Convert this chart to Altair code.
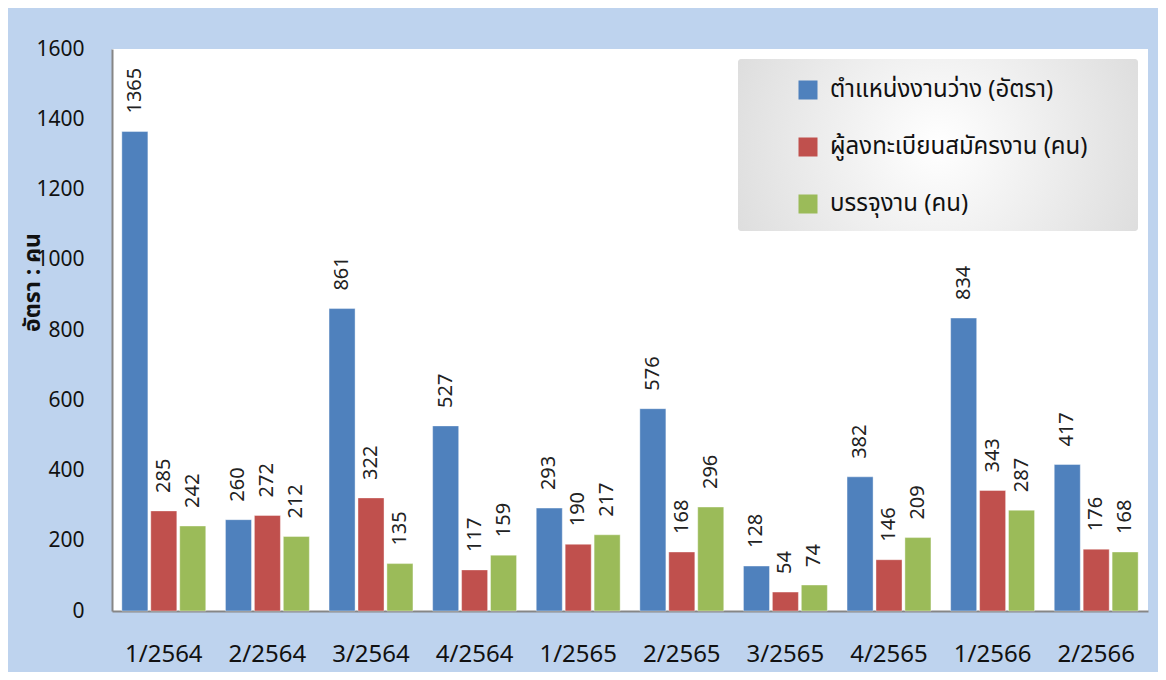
import altair as alt
import pandas as pd

quarters = ["1/2564", "2/2564", "3/2564", "4/2564", "1/2565",
            "2/2565", "3/2565", "4/2565", "1/2566", "2/2566"]
series = ["ตำแหน่งงานว่าง (อัตรา)", "ผู้ลงทะเบียนสมัครงาน (คน)", "บรรจุงาน (คน)"]
vacancies = [1365, 260, 861, 527, 293, 576, 128, 382, 834, 417]
applicants = [285, 272, 322, 117, 190, 168, 54, 146, 343, 176]
placements = [242, 212, 135, 159, 217, 296, 74, 209, 287, 168]
colors = ["#4f81bd", "#c0504d", "#9bbb59"]

rows = []
for i, q in enumerate(quarters):
    for s, vals in zip(series, [vacancies, applicants, placements]):
        rows.append({"quarter": q, "series": s, "value": vals[i]})
df = pd.DataFrame(rows)

FONT = "Tahoma, 'Noto Sans Thai', 'Noto Sans', 'Liberation Sans', sans-serif"

x_enc = alt.X("quarter:N", sort=quarters,
              scale=alt.Scale(paddingInner=0.19, paddingOuter=0.095),
              axis=alt.Axis(title=None, labelAngle=0, labelFontSize=24,
                            labelColor="#111111", labelPadding=31, ticks=False,
                            domainColor="#868686", domainWidth=2, labelFont=FONT))
xo_enc = alt.XOffset("series:N", sort=series,
                     scale=alt.Scale(domain=series, paddingInner=0.1, paddingOuter=0))
y_enc = alt.Y("value:Q",
              scale=alt.Scale(domain=[0, 1600], nice=False),
              axis=alt.Axis(values=list(range(0, 1601, 200)), grid=False, ticks=False,
                            format="d",
                            labelFontSize=21, labelColor="#111111", labelPadding=28,
                            domainColor="#868686", domainWidth=2, labelFont=FONT,
                            title="อัตรา : คน", titleFontSize=23, titleFontWeight="bold",
                            titleFont=FONT, titleColor="#111111",
                            titleX=-80, titleY=233, titleAngle=270,
                            titleBaseline="middle", titleAlign="center"))

legend_box = alt.Chart(pd.DataFrame({"k": [0]})).mark_rect(
    cornerRadius=3,
    fill=alt.RadialGradient(
        gradient="radial",
        stops=[alt.GradientStop(offset=0, color="#ffffff"),
               alt.GradientStop(offset=1, color="#d4d4d4")],
        x1=0.5, y1=0.5, r1=0, x2=0.5, y2=0.5, r2=0.7),
).encode(x=alt.value(626), x2=alt.value(1026), y=alt.value(10), y2=alt.value(182))

bars = alt.Chart(df).mark_bar(stroke="white", strokeWidth=0.8, strokeOpacity=0.5).encode(
    x=x_enc, xOffset=xo_enc, y=y_enc,
    color=alt.Color("series:N", sort=series,
                    scale=alt.Scale(domain=series, range=colors),
                    legend=alt.Legend(title=None, orient="none", legendX=684, legendY=29,
                                      symbolType="square", symbolSize=361,
                                      symbolStrokeWidth=0, labelFontSize=24,
                                      labelFont=FONT, labelColor="#111111",
                                      labelOffset=10, rowPadding=33, padding=0,
                                      labelLimit=400)),
)

labels = alt.Chart(df).mark_text(angle=270, align="left", baseline="middle", dx=18,
                                 fontSize=20, font=FONT, color="#222222").encode(
    x=alt.X("quarter:N", sort=quarters), xOffset=alt.XOffset("series:N", sort=series),
    y="value:Q", text=alt.Text("value:Q", format="d"))

chart = alt.layer(legend_box, bars, labels).properties(
    width=1036, height=562,
    autosize=alt.AutoSizeParams(type="none"),
    padding={"left": 104, "top": 41, "right": 10, "bottom": 61},
    background="#bed3ee",
).configure_view(fill="white", stroke=None)

chart.save("out.html", embed_options={"renderer": "svg", "actions": False})
